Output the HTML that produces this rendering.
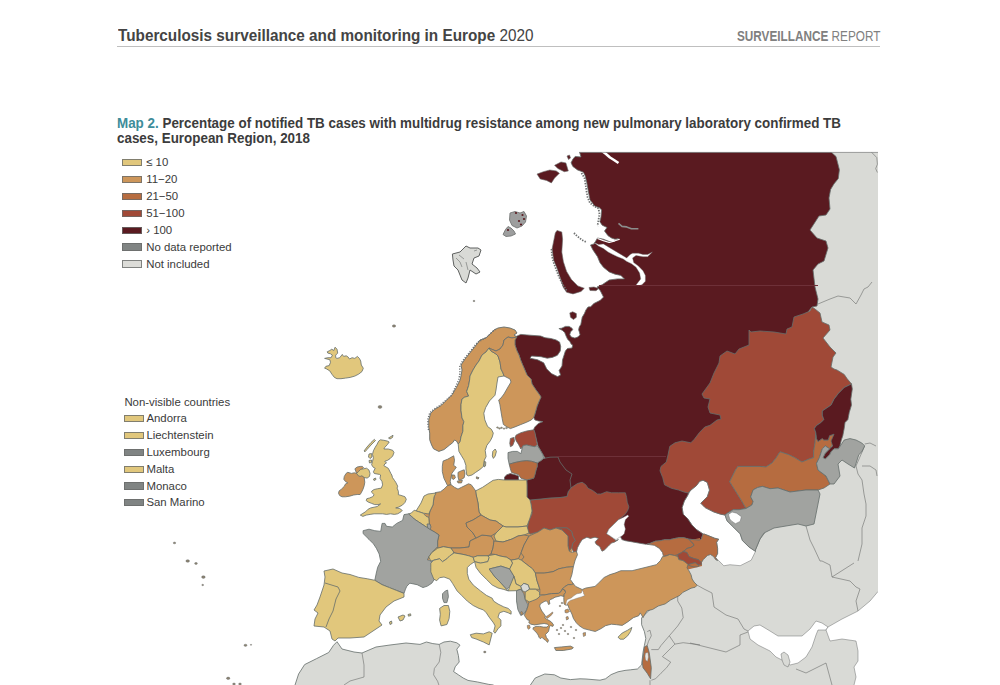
<!DOCTYPE html>
<html><head><meta charset="utf-8"><style>
html,body{margin:0;padding:0;background:#fff;}
body{width:1000px;height:685px;position:relative;overflow:hidden;font-family:"Liberation Sans",sans-serif;}
.t{position:absolute;white-space:nowrap;line-height:1;transform-origin:0 0;}
.sw{position:absolute;width:17.6px;height:5.4px;border:1px solid rgba(105,107,106,0.8);}
.lt{position:absolute;white-space:nowrap;font-size:11.4px;line-height:1;color:#3a3a3a;}
</style></head><body>
<svg width="1000" height="685" viewBox="0 0 1000 685" style="position:absolute;left:0;top:0"><defs><clipPath id="mc"><rect x="0" y="152" width="878" height="533"/></clipPath></defs><g clip-path="url(#mc)"><polygon points="790,148 884,148 884,692 293,692 295,685 298.6,674 304.6,664.6 316.6,658.6 328.7,652.5 333.5,645.3 337,641.7 342,649 354,652 362,653 376,647 390,645 406,643 420,644.4 426.4,642 432.8,643.6 439.2,644.4 444,642 450.4,641.2 456.8,642.8 460,645.2 456.8,649.2 458.4,655.6 459.2,662 455.2,666.8 453.6,671.6 458.4,674.8 463.2,678 468,680.4 477.6,682 488.8,684.4 493.6,685 494,692 530,692 530.4,685 535.2,678 544.8,674 554.4,674.8 560.8,678 570.4,679.6 580,678.8 586,679 600,680.2 605.5,678.8 611.1,674.6 618,671.8 625,670.4 630.5,669.8 637.4,669 641.6,664.9 643,652.4 644.4,645.5 645.8,638.5 644.4,631.6 641.6,624.7 641.6,617.7 670,590 685,570 695,560 705,548 760,480 790,148" fill="#d9dad6" stroke="#646d6b" stroke-width="0.8" stroke-linejoin="round" /><polyline points="677.7,596 677.7,601 681.8,608 683.2,617.7 677.7,626 669.3,635.8 661,645.5 658.3,649.6 651.3,649.6" fill="none" stroke="#6b6d6c" stroke-width="0.6" stroke-linejoin="round" /><polyline points="669.3,635.8 674.9,644.1 683.2,642.7 694.3,644.1 700,644.8" fill="none" stroke="#6b6d6c" stroke-width="0.6" stroke-linejoin="round" /><polyline points="674.9,644.1 662.4,656.6 670.7,662.1 666.6,667.7 661,673.2 655.5,678.8 651.3,680.2" fill="none" stroke="#6b6d6c" stroke-width="0.6" stroke-linejoin="round" /><polyline points="647.2,631.6 650,630.2 651.3,635.8 648.5,641.3 647.2,645.5" fill="none" stroke="#6b6d6c" stroke-width="0.6" stroke-linejoin="round" /><polyline points="697.2,585.2 704,589 712,593 714,607 726,615 738,619 744,629 748,631" fill="none" stroke="#6b6d6c" stroke-width="0.6" stroke-linejoin="round" /><polyline points="690,643 726,652 740,645 740,635 748,632" fill="none" stroke="#6b6d6c" stroke-width="0.6" stroke-linejoin="round" /><polyline points="755.4,550 760,539 764.7,533" fill="none" stroke="#6b6d6c" stroke-width="0.6" stroke-linejoin="round" /><polyline points="806,526 810,540 814,548 820,561 822,561 830,565 832,577 850,581 856,587 860,589 856,601 858,611" fill="none" stroke="#6b6d6c" stroke-width="0.6" stroke-linejoin="round" /><polyline points="832,577 854,563" fill="none" stroke="#6b6d6c" stroke-width="0.6" stroke-linejoin="round" /><polyline points="796,669 806,673 826,663 832,685" fill="none" stroke="#6b6d6c" stroke-width="0.6" stroke-linejoin="round" /><polyline points="864.7,445.9 856,466 858,474 862,480 864,494 866,504 866,516 862,528 862,544 858,561" fill="none" stroke="#6b6d6c" stroke-width="0.6" stroke-linejoin="round" /><polyline points="862,466 870,466 876,470 877,476" fill="none" stroke="#6b6d6c" stroke-width="0.6" stroke-linejoin="round" /><polyline points="864.7,444 870,443 876,446" fill="none" stroke="#6b6d6c" stroke-width="0.6" stroke-linejoin="round" /><polyline points="818,304 830,299 838,296 850,298 856,304 861,295 864,289 868,287 872,282" fill="none" stroke="#6b6d6c" stroke-width="0.6" stroke-linejoin="round" /><polyline points="871.3,152 876.8,157.6 877.4,164.2 875.7,168.6 877.4,172.5" fill="none" stroke="#6b6d6c" stroke-width="0.6" stroke-linejoin="round" /><polyline points="362,653 364,665 364,677 350,681 344,685" fill="none" stroke="#6b6d6c" stroke-width="0.6" stroke-linejoin="round" /><polyline points="439.2,644.4 440.8,652.4 439.2,662 434.4,668.4 433.6,674.8 437.6,681.2 439.2,686" fill="none" stroke="#6b6d6c" stroke-width="0.6" stroke-linejoin="round" /><polyline points="650,680.2 650,685" fill="none" stroke="#6b6d6c" stroke-width="0.6" stroke-linejoin="round" /><polygon points="703,480.2 707.3,482.4 709.5,490.1 707.3,496.7 703,501 700.8,503.2 705.1,507.6 713.9,512 720.5,514.2 725,515 727,520.8 733.6,527.3 740.2,533.9 742.4,540.5 749,547 755.5,551.4 751.2,560.2 740.2,565.7 729.9,564.7 723.8,565.8 718.7,560.6 715.6,557.6 717.6,553.5 717.6,548.4 716.6,542.3 718.7,539.2 714.6,538.2 709.5,536.1 704.4,534.1 703,533.9 696.4,529.5 692,525.1 687.6,518.6 683.2,514.2 682.1,507.6 684.3,501 687.6,495.6 690.9,490.1 696.4,485.7 699.7,481.3" fill="#ffffff" stroke="#6b6d6c" stroke-width="0.5" stroke-linejoin="round" /><polygon points="728.5,514.4 732,512 736.7,513.2 741.4,516.7 740.2,521.4 735.5,523.7 732,521.4 729.7,519" fill="#ffffff" stroke="#6b6d6c" stroke-width="0.5" stroke-linejoin="round" /><polygon points="748,631 754,626 760,625 770,631 778,636 790,636 802,636 810,629 816,621 822,623 828,627 826,630 818,630 816,635 812,647 806,657 798,663 790,665 784,661 776,657 770,651 758,645 750,639" fill="#ffffff" stroke="#6b6d6c" stroke-width="0.5" stroke-linejoin="round" /><polygon points="828,627 842,619 858,611 870,601 878,591.5 884,588 884,692 853,692 854,685 856,677 854,667 858,661 858,651 856,641 842,639 830,641 826,630" fill="#ffffff" stroke="#6b6d6c" stroke-width="0.5" stroke-linejoin="round" /><polygon points="781,654 784,652 788,655 790,662 788,667 784,665 782,660" fill="#d9dad6" stroke="#6b6d6c" stroke-width="0.5" stroke-linejoin="round" /><polygon points="579.5,152 831,152 836,156.5 839.4,169.7 838.3,178.5 833.9,184 830.6,189.5 829,198 830,209 826,215 819,216 810,230 817,238 826,241 828,248 824,261 818,264 813,270 815,287 818,299 817,306 812,307 790,335 765,380 745,420 725,450 705,470 692,486 689,492 687.6,495.6 684.3,501 682.1,507.6 683.2,514.2 687.6,518.6 692,525.1 696.4,529.5 703,533.9 702.3,536.1 701.3,539.2 699.2,540.2 694.1,539.7 689,539.2 683.9,537.7 678.8,537.7 673.7,538.7 669.6,539.7 664.5,539.7 660.4,540.7 655.3,541.2 650.2,543.3 646.1,544.3 640,543.3 632.4,541.9 625.4,540.7 621.9,539.6 615,525 618,505 600,498 580,492 566,486 562,470 550,462 545,458 538,446 536,438 534.5,432 533.7,429.2 534.9,426.9 538.4,423.4 543,421.6 538.4,421 534.9,419.9 533.7,417.5 534.9,414 537.2,405.8 539.6,400 541,397 539,394 536,390 532,384 531,379 527,375 524,368 521,361 519,355 517,351 515,345 515,340 515,337 520.7,334.4 530,335.2 540.7,336 545,337.7 550.8,338.5 556,339.9 559.6,342.1 560.7,346.5 560.3,350.9 557.4,355.3 552.3,357.4 547.2,358.2 541,356.7 531.5,356 530,358.2 537.6,359.8 543.7,362.8 546.8,369 551.4,373.6 557.5,376.6 560.6,375.1 559.1,370.5 562,366 562.5,360 564,355.3 565.4,350.9 567.5,348.5 572,348 572.7,345 571.3,344.3 569.8,341.4 567.6,339.2 566.2,336.3 564.7,332.6 562.5,330.4 558.9,328.6 561.8,328.2 565.4,326.4 569.1,326.4 572,328.2 572.7,329.7 570.5,331.9 569.8,334.8 571.3,337 574.9,338.1 577.8,337 580,334.8 579.3,331.9 578.6,329.7 579.3,326.8 580.8,324.6 581.5,321 582.2,317.3 584.4,313.6 585.9,310 588,307 590.7,306.7 593.9,303.5 600.3,300.3 603.5,297.1 600.3,290.7 597,287 602.2,284.7 609.2,280 617.4,278.9 624.4,278.9 620.9,275.4 615,274.2 609.2,271.9 603.4,267.2 599.9,262.6 597.5,256.7 592.8,249.7 590.5,245 594,243.9 597.5,238 603.4,239.2 609.2,241.5 613.9,241.5 618.5,238.6 615,239.2 611.5,238 608,235.7 604.5,231 607,227.5 602.2,225.2 599.9,221.7 601,217 601.6,210 599.6,207.8 594.8,206.2 590,199.8 588.4,191.8 586.7,182.1 585.1,175.7 583.4,172.2 577.5,169.9 572.8,166.4 571.1,162.8 572.8,159.3 575.2,156.4 581,157" fill="#5a1a20" stroke="#646d6b" stroke-width="0.8" stroke-linejoin="round" /><polygon points="594,242.5 598.7,244.5 603.4,243.9 609.2,247.4 615,250.9 620.9,254.4 626.7,257.9 630.2,254.4 632.6,253.2 638.4,253.2 643,254.4 647.7,254.4 652.4,252 647.7,256.7 643,256.7 636,255.5 632.6,257.9 633.7,262.6 638.4,266 643,270.7 645.4,275.4 645.4,281.2 642,284.7 638.4,285.9 636,285 640.7,278.9 639.6,273 636,267.2 631.4,263.7 626.7,261.4 623.2,259 617.4,256.7 612.7,254.4 608,252 603.4,248.5 598.7,246.2" fill="#ffffff" stroke="#6b6d6c" stroke-width="0.4" stroke-linejoin="round" /><polyline points="602,151 606,154 610,157.5 614,160 618.5,163" fill="none" stroke="#ffffff" stroke-width="2.6" stroke-linejoin="round" /><polyline points="618.5,223.4 622,226.4 626.7,226.9 631.4,228.7 638.4,228.7" fill="none" stroke="#8b8d8c" stroke-width="1.6" stroke-linejoin="round" /><polyline points="597.5,238.5 603.4,240.6 609.2,242.5 615,240.8 619.7,239.2" fill="none" stroke="#ffffff" stroke-width="1.2" stroke-linejoin="round" /><polygon points="557,230.4 561.8,232 562.6,239.3 561.8,252.1 563.4,261.8 566.6,271.4 571.4,279.4 577.8,285.9 584.3,288.3 581,291.5 573,293.9 566.6,292.3 563.4,287.5 560.2,277.8 557,268.2 553.7,260.2 552.1,248.9 553.7,240.9 555.3,232.9" fill="#5a1a20" stroke="#6b6d6c" stroke-width="0.6" stroke-linejoin="round" /><polygon points="589,287.5 594,287 598.7,288.5 596,290.7 590,290.5" fill="#5a1a20" stroke="#6b6d6c" stroke-width="0.6" stroke-linejoin="round" /><polygon points="569.8,312.9 572.7,311.8 576.4,313.6 576.4,317.3 573.5,319.5 570.5,317.3" fill="#5a1a20" stroke="#6b6d6c" stroke-width="0.6" stroke-linejoin="round" /><polygon points="554.6,165.3 561,162 565.9,162.9 568.3,170.9 564.3,171.7 557.8,168.5" fill="#5a1a20" stroke="#6b6d6c" stroke-width="0.6" stroke-linejoin="round" /><polygon points="537,174.1 543.4,171.7 549.8,170 556.2,170.9 559.4,173.3 554.6,178.1 551.4,182.9 546.6,180.5 540.2,178.9" fill="#5a1a20" stroke="#6b6d6c" stroke-width="0.6" stroke-linejoin="round" /><polygon points="567,156 569.5,155 570.5,158 568.5,159.5" fill="#5a1a20" stroke="#6b6d6c" stroke-width="0.6" stroke-linejoin="round" /><polygon points="510,213 515,211.5 520,213 524,211.5 526.5,216 525.5,222 522,226 517,228 512,225.5 509.5,220" fill="#9d9e9e" stroke="#6b6d6c" stroke-width="0.8" stroke-linejoin="round" /><polygon points="503,234.5 505.5,229.5 508,226.5 511,228 514,231 515.5,234 511,236 506,236.5" fill="#9d9e9e" stroke="#6b6d6c" stroke-width="0.8" stroke-linejoin="round" /><circle cx="522.5" cy="215" r="1.1" fill="#5a1a20"/><circle cx="524" cy="219" r="1.1" fill="#5a1a20"/><circle cx="519" cy="221" r="1.1" fill="#5a1a20"/><circle cx="508" cy="230" r="1.1" fill="#5a1a20"/><circle cx="521" cy="224.5" r="1.1" fill="#5a1a20"/><circle cx="516" cy="213" r="1.1" fill="#5a1a20"/><polyline points="581.5,173 584.5,178 585.5,184 586.5,191 587.5,197 590,203 594,206 598.5,208.5 599.5,214 598.5,220 597.5,226" fill="none" stroke="#6f7171" stroke-width="1.8" stroke-linejoin="round" stroke-dasharray="1.4 1.3"/><polyline points="551.5,249 552,256 553.5,262 556,269 559,277 563,285 567,291" fill="none" stroke="#6f7171" stroke-width="1.8" stroke-linejoin="round" stroke-dasharray="1.4 1.3"/><polyline points="574,233 577,236 582,240 586,242" fill="none" stroke="#6f7171" stroke-width="1.8" stroke-linejoin="round" stroke-dasharray="1.4 1.3"/><polygon points="812,307 815,309 820,313 822,322 829,325 830,330 823,338 830,347 836,353 833,357 831,367 834,369 837,370 844.2,374.4 847.2,378.8 851.5,383.9 844.2,387.5 838.4,393.4 834,399.2 831.1,405 826.7,408 822.3,410.9 822.3,415.3 823.8,419.6 820.9,422.6 816.5,425.5 814.3,428.4 815.8,432.8 815,443 813.6,451.8 813.6,457.6 809.2,459 801.9,462 794.6,457.6 788.8,454.7 780,451.8 776,458 772,463 766,467 760,466.4 738,466.4 735.5,470 729.7,481.7 735.5,491 741.4,500.4 746,508.5 739,509.7 733.2,509.7 727.4,513.2 725,515 720.5,514.2 713.9,512 705.1,507.6 700.8,503.2 703,501 707.3,496.7 709.5,490.1 707.3,482.4 703,480.2 699.7,481.3 696.4,485.7 690.9,490.1 688,493 684,492 678.5,490 671.5,488.3 664.5,484.8 662.8,477.8 660,470.8 661,466.4 666.3,462 668,455 669.8,446.3 675,442.8 682,441 690.8,442.8 694.3,439.3 699.6,432.3 704.8,427 710,425.3 717,420 721,419 720,415 710,413 708,407 710,399 704,398 702,394 710,383 714,373 719,363 720,356 727,351 735,354 739,349 744,347 749,345 749,330 751,332 760,331 774,332 786,334 787,329 792,327 794,317 803,314 810,311" fill="#a04937" stroke="#646d6b" stroke-width="0.8" stroke-linejoin="round" /><polygon points="729.7,481.7 735.5,470 738,466.4 760,466.4 766,467 772,463 776,458 780,451.8 788.8,454.7 794.6,457.6 801.9,462 809.2,459 813.6,457.6 813.6,451.8 815,443 815.8,432.8 816.5,438.6 818,441.5 822.3,438.6 823.8,440 828.2,440 829.6,435.7 834,434.2 832.6,444.5 829.6,448.8 825.3,445.9 822.3,448.8 819.4,457.6 816.5,463.4 818,470 826,476 830,484 824,488 818,490 806,490 790,492 778,488 770,488.7 762.4,486.4 757.7,487.5 753.1,489.9 750.7,496.9 753.1,501.5 751.9,505 746,508.5 741.4,500.4 735.5,491" fill="#b66c40" stroke="#646d6b" stroke-width="0.8" stroke-linejoin="round" /><polygon points="851.5,383.9 852.3,389 850.8,399.2 851.5,405 849.3,412.3 847.9,419.6 845,422.6 844.2,428.4 842.8,435.7 841.3,440 839.9,445.9 838.4,448.8 834,448.8 831.1,451.8 829.6,454.7 825.3,459 823,457.6 825.3,453.2 829.6,448.8 832.6,445.9 831,441 834,434.2 829.6,435.7 828.2,440 823.8,440 822.3,438.6 818,441.5 816.5,438.6 815.8,432.8 814.3,428.4 816.5,425.5 820.9,422.6 823.8,419.6 822.3,415.3 822.3,410.9 826.7,408 831.1,405 834,399.2 838.4,393.4 844.2,387.5" fill="#5a1a20" stroke="#646d6b" stroke-width="0.8" stroke-linejoin="round" /><polygon points="822.3,448.8 825.3,445.9 829.6,448.8 825.3,453.2 823,457.6 825.3,459 829.6,454.7 831.1,451.8 834,448.8 838.4,448.8 844.2,440 850,438.6 856,440 861.8,443 864.7,445.9 861.8,451.8 858.8,454.7 856,463.4 854.5,468 848,464 842,460 838,464 840,476 834,484 830,484 826,476 818,470 816.5,463.4 819.4,457.6" fill="#a1a3a0" stroke="#646d6b" stroke-width="0.8" stroke-linejoin="round" /><polygon points="746,508.5 751.9,505 753.1,501.5 750.7,496.9 753.1,489.9 757.7,487.5 762.4,486.4 770,488.7 778,488 790,492 806,490 818,490 820,494 818,504 816,514 814,524 806,526 798,524 786,526 774,528 764,533 760,539 755.4,550 755.5,551.4 749,547 742.4,540.5 740.2,533.9 733.6,527.3 727,520.8 725,515 727.4,513.2 733.2,509.7 739,509.7" fill="#a1a3a0" stroke="#646d6b" stroke-width="0.8" stroke-linejoin="round" /><polygon points="728.5,514.4 732,512 736.7,513.2 741.4,516.7 740.2,521.4 735.5,523.7 732,521.4 729.7,519" fill="#ffffff" stroke="#6b6d6c" stroke-width="0.5" stroke-linejoin="round" /><polygon points="664,546 700,538 702,566 686,570 665,558" fill="#b66c40" stroke="none" stroke-width="0" stroke-linejoin="round" /><polygon points="647.2,544.3 650.2,543.3 655.3,541.2 660.4,540.7 664.5,539.7 669.6,539.7 673.7,538.7 678.8,537.7 683.9,537.7 689,539.2 691.1,541.7 693.1,543.3 694.1,545.3 691.1,547.4 687,548.4 684.9,550.4 681.9,552.5 677.8,554.5 674.7,555.5 669.6,554.5 663.5,556.6 662.5,552.5 659.4,548.4 654.3,545.3" fill="#b66c40" stroke="#646d6b" stroke-width="0.8" stroke-linejoin="round" /><polygon points="689,539.2 694.1,539.7 699.2,540.2 701.3,539.2 702.3,536.1 703.3,534.1 704.4,534.1 709.5,536.1 714.6,538.2 718.7,539.2 716.6,542.3 717.6,548.4 717.6,553.5 715.6,557.6 717.6,560.6 715.6,559.6 713.6,556.6 710.5,554.5 707.4,555.5 703.3,559.6 701.3,562.7 698.2,559.6 694.1,558.6 689,556.6 687,552.5 682.9,551.5 684.9,550.4 687,548.4 691.1,547.4 694.1,545.3 693.1,543.3 691.1,541.7" fill="#b66c40" stroke="#646d6b" stroke-width="0.8" stroke-linejoin="round" /><polygon points="677.8,554.5 681.9,552.5 682.9,551.5 687,552.5 689,556.6 694.1,558.6 698.2,559.6 701.3,562.7 701.3,564.7 698.2,564.7 695.2,562.7 691.1,563.7 688,564.7 686,562.7 682.9,560.6 678.8,559.6 677.8,556.6" fill="#a04937" stroke="#646d6b" stroke-width="0.8" stroke-linejoin="round" /><polygon points="688,564.7 691.1,563.7 695.2,562.7 699.2,565.8 697.2,566.8 693.1,566.8 690,565.8" fill="#b66c40" stroke="#646d6b" stroke-width="0.8" stroke-linejoin="round" /><polygon points="436,495 466,490 476,494 500,488 527,484 540,465 558,466 566,488 590,495 612,500 605,520 595,528 575,540 572,552 560,568 540,590 530,606 524,600 520,592 516,586 512,570 492,556 470,556 452,553 433,558 427,561 428,530 424,514 432,500" fill="#cd965a" stroke="none" stroke-width="0" stroke-linejoin="round" /><polygon points="530,500 541,499 550,498 560,497.5 567,496.4 568.2,491.7 570.5,488.2 574,485.8 577.5,483.5 582.2,482.3 585.7,484.7 588,488.2 592.7,490.5 597.4,494 600.9,494 606.7,491.7 611.4,492.8 618.4,492.8 625.4,492.8 626.6,497.5 627.2,502.2 628.9,506.9 627.7,510.4 625.4,513.9 623.1,516.2 618.4,519.7 613.7,524.4 609,529 606.7,533.7 610.2,536 613.7,538.4 616,540.7 618.4,539.6 614.9,541.9 611.4,543.1 607.9,546.6 604.4,550 602,551.2 599.7,546.6 596.2,544.2 595,541.9 598.5,538.4 595,537.2 590.4,538.4 586.9,537.2 584.5,538.4 582.2,539.6 579.9,543.1 577.5,547.7 576.4,552.4 575.2,557 574,553 571.7,547.7 572.8,543.1 575.2,540.7 572.8,536 571.7,531.4 567,527.9 560,527.9 556,528 550,530 544,528 538,532 530,534 527,530 529,520 532,514 532,511 531,504" fill="#a04937" stroke="#646d6b" stroke-width="0.8" stroke-linejoin="round" /><polygon points="556,528 560,527.9 567,527.9 571.7,531.4 572.8,536 575.2,540.7 572.8,543.1 571.7,547.7 569.3,551.2 568,546 568,536 562,530" fill="#a04937" stroke="#646d6b" stroke-width="0.8" stroke-linejoin="round" /><polygon points="606.7,533.7 609,529 613.7,524.4 618.4,519.7 623.1,517.4 627.7,515 628.9,516.2 625.4,519.7 624.2,524.4 625.4,529 624.2,533.7 621.9,536 619.6,537.2 616,539.6 613.7,538.4 610.2,536" fill="#ffffff" stroke="#6b6d6c" stroke-width="0.4" stroke-linejoin="round" /><polygon points="543.6,458.4 550,457.2 558,457 560,462 566,470 572,474 570,480 571,488 568.2,491.7 567,496.4 560,497.5 550,498 541,499 530,500 527,497 527,490 527,485 526.7,480 533.7,478.2 534.9,474.7 536,470 537.2,466.6 537.2,463 540.7,460.7" fill="#5a1a20" stroke="#646d6b" stroke-width="0.8" stroke-linejoin="round" /><polygon points="515,437.4 516.2,435 520.9,432.7 526.7,431 533.7,429.8 534.9,432.7 536,438.5 537.2,444.4 534.9,446.7 531.4,446.1 526.7,445 523.2,445.5 520.9,449 519.7,446.7 518.5,444.4 516.2,440.9" fill="#a04937" stroke="#646d6b" stroke-width="0.8" stroke-linejoin="round" /><polygon points="509.8,443.2 510.4,438.5 513.9,437.4 514.5,440.9 512.7,445.5 510.4,446.7" fill="#a04937" stroke="#646d6b" stroke-width="0.8" stroke-linejoin="round" /><polygon points="508,452.6 512.7,451.4 517.4,451.4 520.9,453.7 522,449 523.2,445.5 526.7,445 531.4,446.1 534.9,446.7 537.2,445.5 539.6,449 543,454.9 543.6,458.4 540.7,460.7 537.2,463 531.4,461.3 526.7,460.7 520.9,461.3 515,462.5 509.2,464.2 508,458.4" fill="#a1a3a0" stroke="#646d6b" stroke-width="0.8" stroke-linejoin="round" /><polygon points="509.2,464.2 515,462.5 520.9,461.3 526.7,460.7 531.4,461.3 537.2,463 537.2,466.6 536,470 534.9,474.7 533.7,478.2 526.7,480 520.9,478.2 518.5,474.7 511.5,472.4 510.4,468.9" fill="#b66c40" stroke="#646d6b" stroke-width="0.8" stroke-linejoin="round" /><polygon points="504.5,477 506.9,474.7 510.4,473.6 515,474.7 518.5,475.9 518.5,480 504.5,480" fill="#5a1a20" stroke="#646d6b" stroke-width="0.8" stroke-linejoin="round" /><polygon points="431.6,445 433.5,448.8 438.8,451.4 444,449.6 449.3,445.3 452.8,442.6 454.5,440 456.5,441 458.2,444 460.1,441.7 461,436.9 462.9,431.2 462.9,425.5 463.9,421.7 462,417.9 461,410.4 461,404.7 462,399 464.8,397.1 468.6,396.1 466.7,391.4 468.6,385.7 469.6,380 470,376 473,370 476,365 479,361 482,355 486,352 489,348 491,349 496,351 500,349 503,345 504,340 508,337 512,338 517,337 514,335 517,333 515,330 510,328 504,327 498,328 494,330 490,334 486,338 480,340 477,344 473,349 469,354 465,359 461,365 462,370 461,376 460.1,380 456.3,387.6 452.5,394.2 446.8,399.9 441.1,405.6 434.5,409.4 430.7,413.2 428.8,419.8 428.8,427.4 429.7,433.1 429.7,439.8" fill="#cd965a" stroke="#646d6b" stroke-width="0.9" stroke-linejoin="round" /><polyline points="428.5,430 428,424 428,419 429.8,413 433,410 439,406 445,401 451,396 453.5,391 456.5,385 459,379 460,373 459.6,367 462.5,361 466.5,356 470.5,351 474.5,346 478,342 483.5,339 488,336 492,332 496,329" fill="none" stroke="#6f7171" stroke-width="1.5" stroke-linejoin="round" stroke-dasharray="1.1 1.5"/><polygon points="489,348 491,351 496,354 498,356 500,362 501,369 503,373 504,376 498,377 497,383 496,390 495,395.2 489.5,400.9 485.7,407.5 483.8,413.2 484.8,419.8 487.6,426.5 491.4,429.3 493.3,433.1 492.3,436.9 490.4,440.7 486.9,445.3 485.2,450.5 486.1,456.6 484.3,460.2 483.4,466.3 480.8,468.9 475.6,472.4 472,475 468.5,475.9 466.8,475 465.9,468.9 465.9,465.4 464.2,460.2 461.5,455.8 458.9,451.4 458.2,444 460.1,441.7 461,436.9 462.9,431.2 462.9,425.5 463.9,421.7 462,417.9 461,410.4 461,404.7 462,399 464.8,397.1 468.6,396.1 466.7,391.4 468.6,385.7 469.6,380 470,376 473,370 476,365 479,361 482,355 486,352" fill="#e1c77c" stroke="#646d6b" stroke-width="0.8" stroke-linejoin="round" /><polygon points="517,337 512,338 508,337 504,340 503,345 500,349 496,351 491,349 489,348 491,351 496,354 498,356 500,362 501,369 503,373 504,376 510,379 511,382 508,387 504,394 501,398 498.7,400 499.9,404.7 501,411.7 502.2,418.7 503.4,424.5 506.9,426.9 510.4,428.6 515,426.9 520.9,424.5 526.7,422.2 531.4,419.9 533.7,417.5 534.9,414 537.2,405.8 539.6,400 541,397 539,394 536,390 532,384 531,379 527,375 524,368 521,361 519,355 517,351 515,345 515,340" fill="#cd965a" stroke="#646d6b" stroke-width="0.8" stroke-linejoin="round" /><polygon points="492.8,451.4 495.2,449 496.4,451.4 495.2,456 493.4,458.4 492.3,456" fill="#e1c77c" stroke="#646d6b" stroke-width="0.8" stroke-linejoin="round" /><polygon points="484.5,461 485.8,462 485.5,466 484,467" fill="#e1c77c" stroke="#646d6b" stroke-width="0.8" stroke-linejoin="round" /><ellipse cx="497.5" cy="427.5" rx="1" ry="0.7" fill="#9a8c70" stroke="#646d6b" stroke-width="0.4"/><ellipse cx="499.5" cy="428.5" rx="1" ry="0.7" fill="#9a8c70" stroke="#646d6b" stroke-width="0.4"/><ellipse cx="501.5" cy="427.8" rx="1" ry="0.7" fill="#9a8c70" stroke="#646d6b" stroke-width="0.4"/><ellipse cx="504" cy="428.6" rx="1" ry="0.7" fill="#9a8c70" stroke="#646d6b" stroke-width="0.4"/><ellipse cx="506.5" cy="428" rx="1" ry="0.7" fill="#9a8c70" stroke="#646d6b" stroke-width="0.4"/><polygon points="443.1,461 447.5,459.3 453.7,455.8 454.5,460.2 453.7,465.4 456.3,467.2 454.5,469.8 451.9,473.3 451,477.7 450.2,481.2 451,484.7 447.5,485.6 445.8,482.1 444,478.5 443.1,475 442.3,471.5 442.3,466.3" fill="#cd965a" stroke="#646d6b" stroke-width="0.8" stroke-linejoin="round" /><polygon points="458,472.4 461.5,470.7 464.2,469.8 465,473.3 464.2,477.7 461.5,479.4 458.9,480.3 458,476.8" fill="#cd965a" stroke="#646d6b" stroke-width="0.8" stroke-linejoin="round" /><polygon points="451.9,475 454.5,475 455.4,477.7 453.7,479.4 451.9,478.5" fill="#cd965a" stroke="#646d6b" stroke-width="0.8" stroke-linejoin="round" /><polygon points="457.2,481.2 462.4,480.3 461.5,482.9 458,482.9" fill="#cd965a" stroke="#646d6b" stroke-width="0.8" stroke-linejoin="round" /><polygon points="476.4,476.8 479,477.7 478.2,479 476.4,478.5" fill="#cd965a" stroke="#646d6b" stroke-width="0.8" stroke-linejoin="round" /><polygon points="327.2,351.8 329.8,350.5 331.8,349.2 333.8,350.5 335.1,347.2 337,349.2 337.7,353.1 335.7,355.1 335.7,357.7 337,358.4 339.7,357.7 342.3,354.4 343.6,356.4 346.2,355.8 348.2,357.1 349.5,359 352.1,357.7 354.8,358.4 357.4,356.4 359.4,358.4 360.7,361 361.3,365 363.3,368.2 362,371.5 358.7,374.1 354.8,376.1 350.2,377.4 345.6,378.1 341,378.7 337,378.7 334.4,377.4 331.8,374.1 329.8,370.9 326.5,368.9 324.6,368.2 325.9,366.3 329.2,365.6 330.5,362.3 329.8,359.7 324.6,358.4 327.8,357.7 331.1,357.7 332.4,355.1 330.5,353.8 327.8,353.1" fill="#e1c77c" stroke="#646d6b" stroke-width="0.8" stroke-linejoin="round" /><polygon points="452.4,254 460,252 466,246 470,248 478,248 481,250 479,256 474,258 472,264 477,268 480,272 476,274 470,270 468,278 466,283 462,280 458,270 454,266 453,260" fill="#d9dad6" stroke="#5f6160" stroke-width="1.0" stroke-linejoin="round" /><polyline points="456,258 460,262 462,267" fill="none" stroke="#7a7c7b" stroke-width="0.7" stroke-linejoin="round" /><polyline points="459,255 464,259" fill="none" stroke="#7a7c7b" stroke-width="0.7" stroke-linejoin="round" /><polyline points="466,262 468,270" fill="none" stroke="#7a7c7b" stroke-width="0.7" stroke-linejoin="round" /><polyline points="474,251 477,250" fill="none" stroke="#7a7c7b" stroke-width="0.7" stroke-linejoin="round" /><polygon points="475.6,490.8 477.3,490 482.6,487.3 487.8,483.8 493.1,480.3 498.3,479.4 504.5,480 518.5,480 526.7,480 527,485 527,490 527,497 530,500 531,504 532,511 530,518 527,526 518,527 512,527 506,527 503,526 496,521 490,520 481,515 479,512 478,503 476,494" fill="#e1c77c" stroke="#646d6b" stroke-width="0.8" stroke-linejoin="round" /><polygon points="435.3,492.6 440.5,491.7 444,489.1 447.5,485.6 451,484.7 454.5,487.3 458,489.1 461.5,487.3 465,485.6 468.5,483.8 471.2,484.7 473.8,488.2 475.6,490.8 476,494 478,503 479,512 481,515 473,520 466,523 467,527 473,533 476,538 470,541 469,547 460,548 451,548 443.4,546.7 437.6,548.2 437.6,546.7 437.6,540.9 439,535 434.7,532.1 429.6,529.2 428.8,517.5 430,511 433,505 434,497" fill="#cd965a" stroke="#646d6b" stroke-width="0.8" stroke-linejoin="round" /><polygon points="416,511 421,503 424,496 428,494 436,493 434,497 433,505 430,511 428.8,514 423,513.1 418.6,511.7" fill="#e1c77c" stroke="#646d6b" stroke-width="0.8" stroke-linejoin="round" /><polygon points="408.4,513.9 411.3,513.1 414.2,510.2 418.6,511.7 423,513.1 425.9,516.1 428.8,517.5 429.6,529.2 427.4,527.7 423,524.8 418.6,521.9 414.2,519 411.3,516.1" fill="#e1c77c" stroke="#646d6b" stroke-width="0.8" stroke-linejoin="round" /><polygon points="427,524 430,524 431,527 430,529.5 428,529" fill="#a1a3a0" stroke="#646d6b" stroke-width="0.8" stroke-linejoin="round" /><polygon points="363.1,530.7 369,529.2 374.8,530.7 380.7,531.4 382.1,523.4 385,523.4 386.5,526.3 392.3,527 396.7,523.4 402.6,520.4 404,514.6 408.4,513.9 411.3,516.1 414.2,519 418.6,521.9 423,524.8 427.4,527.7 429.6,529.2 434.7,532.1 439,535 437.6,540.9 437.6,546.7 431.8,552.6 428.8,556.9 427.4,559.9 431.8,561.3 431.8,567.2 433.2,573 434.7,578.8 431.8,583.2 427.4,586.1 423,587.6 417.2,584.7 409.9,583.2 406.9,586.1 405.5,589.1 404,593.4 396.7,590.5 389.4,587.6 382.1,584.7 374.8,580.3 376.3,573 377.7,567.2 380.7,561.3 379.2,554 376.3,548.2 373.4,543.8 369,539.4 366.1,536.5 363.1,533.6" fill="#a1a3a0" stroke="#646d6b" stroke-width="0.8" stroke-linejoin="round" /><polygon points="442.5,593.8 445.4,590.9 447.6,590.1 448.4,596.7 446.9,602.6 444,602.6 442.5,598.2" fill="#a1a3a0" stroke="#646d6b" stroke-width="0.8" stroke-linejoin="round" /><polygon points="428.8,556.9 431.8,552.6 437.6,548.2 443.4,546.7 451,548 454,552 452,555 449.8,555.8 446.9,558.8 442.5,561.7 439.6,558.8 433.8,560.2 430.8,561" fill="#e1c77c" stroke="#646d6b" stroke-width="0.8" stroke-linejoin="round" /><polygon points="451,548 460,548 469,547 470,541 476,538 482,535 491,536 494,541 493,548 491,554 487.8,555.8 477.6,555.8 473.2,557.3 468.8,555.8 463,554.4 454.2,552.9" fill="#cd965a" stroke="#646d6b" stroke-width="0.8" stroke-linejoin="round" /><polygon points="466,523 473,520 481,515 490,520 496,521 503,526 496,533 491,536 482,535 476,538 473,533 467,527" fill="#cd965a" stroke="#646d6b" stroke-width="0.8" stroke-linejoin="round" /><polygon points="496,533 503,526 506,527 512,527 518,527 527,526 529,533 524,535 518,536 512,539 503,542 496,541 494,536" fill="#e1c77c" stroke="#646d6b" stroke-width="0.8" stroke-linejoin="round" /><polygon points="494,541 503,542 512,539 518,536 524,535 529,536 524,545 521,553 518.4,558.8 511.1,560.2 506.8,557.3 500,556 495.1,554.4 491,554 493,548" fill="#cd965a" stroke="#646d6b" stroke-width="0.8" stroke-linejoin="round" /><polygon points="529,536 538,532 544,528 550,530 556,528 562,530 568,536 568,546 569.3,551.2 571.7,552.4 576.4,551.2 577.5,554.7 575.2,560 573.4,566.6 566.1,567.3 558.8,568.8 553,571.7 544.2,573.1 535.4,573.1 532.5,568.8 526.7,564.4 521.4,560.2 524,557 521,553 524,545" fill="#cd965a" stroke="#646d6b" stroke-width="0.8" stroke-linejoin="round" /><polygon points="430.8,563.1 433.8,560.2 439.6,558.8 442.5,561.7 446.9,558.8 449.8,555.8 454.2,552.9 463,554.4 468.8,555.8 473.2,557.3 474.6,561.7 470.3,564.6 467.3,567.5 467.3,573.4 468.8,579.2 473.2,585 480.5,590.9 486.3,595.3 492.2,598.2 493.6,601.1 498,604 503.8,606.9 508.2,608.4 511.1,611.3 511.1,614.2 508.2,612.8 503.8,611.3 499.5,612.8 498,617.2 500.9,620.1 500.9,625.9 498,628.8 495.1,633.2 493.6,631.8 495.1,625.9 493.6,623 489.2,617.2 486.3,612.8 483.4,609.9 479,608.4 473.2,605.5 467.3,601.1 461.5,595.3 457.1,590.9 452.7,583.6 449.8,579.2 444,577 439.6,577.7 436.7,580.7 433.8,579.2 430.8,571.9 430.8,567.5" fill="#e1c77c" stroke="#646d6b" stroke-width="0.8" stroke-linejoin="round" /><polygon points="470.3,634.7 476.1,633.2 483.4,633.9 489.2,631.8 492.2,633.2 490.7,639 489.2,644.9 483.4,642 476.1,639 471.7,637.6" fill="#e1c77c" stroke="#646d6b" stroke-width="0.8" stroke-linejoin="round" /><polygon points="439.6,608.4 444,605.5 448.4,605.5 449.8,611.3 449.1,618.6 446.9,624.5 441.1,625.9 439.6,620.1 440.3,614.2" fill="#e1c77c" stroke="#646d6b" stroke-width="0.8" stroke-linejoin="round" /><polygon points="473.2,557.3 477.6,555.8 487.8,555.8 489.2,557.3 487.8,561.7 480.5,563.1 474.6,561.7" fill="#e1c77c" stroke="#646d6b" stroke-width="0.8" stroke-linejoin="round" /><polygon points="487.8,555.8 495.1,554.4 500,556 506.8,557.3 511.1,560.2 512.6,563.1 509.7,569 500.9,566.1 489.2,569 495,577 500,582 506.8,589.4 508.2,590.9 503.8,589.4 498,588 492.2,585 486.3,579.2 480.5,573.4 476.1,567.5 474.6,561.7 480.5,563.1 487.8,561.7 489.2,557.3" fill="#e1c77c" stroke="#646d6b" stroke-width="0.8" stroke-linejoin="round" /><polygon points="489.2,569 500.9,566.1 509.7,569 514,576.3 512.6,582.1 509.7,586.5 506.8,589.4 500,582 495,577" fill="#a1a3a0" stroke="#646d6b" stroke-width="0.8" stroke-linejoin="round" /><polygon points="511.1,560.2 518.4,558.8 521.4,560.2 526.7,564.4 532.5,568.8 535.4,573.1 536.9,580.4 538.4,584.8 539.8,589.2 535.4,589.2 529.6,589.2 528.1,584.8 523.8,583.4 520.8,586.3 516,584 514,576.3 509.7,569 512.6,563.1" fill="#e1c77c" stroke="#646d6b" stroke-width="0.8" stroke-linejoin="round" /><polygon points="509.7,586.5 514,576.3 516,584 520.8,586.3 522.3,590.7 520.8,589.2 516.5,590.7 508.2,590.9" fill="#e1c77c" stroke="#646d6b" stroke-width="0.8" stroke-linejoin="round" /><polygon points="520.8,586.3 523.8,583.4 528.1,584.8 529.6,589.2 525.2,592.1 522.3,590.7" fill="#d9dad6" stroke="#646d6b" stroke-width="0.8" stroke-linejoin="round" /><polygon points="516.5,590.7 520.8,589.2 523.8,593.6 525.2,599.4 528.1,605.3 526.7,609.6 523.8,614 520.8,615.5 517.9,609.6 516.5,600.9" fill="#a1a3a0" stroke="#646d6b" stroke-width="0.8" stroke-linejoin="round" /><polygon points="525.2,592.1 529.6,589.2 535.4,589.2 539.8,592.1 539.8,596.5 535.4,600.9 529.6,602.3 525.2,599.4" fill="#e1c77c" stroke="#646d6b" stroke-width="0.8" stroke-linejoin="round" /><polygon points="535.4,573.1 544.2,573.1 553,571.7 558.8,568.8 566.1,567.3 573.4,566.6 571.9,574.6 570.3,579.4 573.4,583.8 571.6,584.6 568.1,584.6 564.6,586.8 561.6,589.5 561.1,591.6 558.5,593.4 551.5,593.6 544.2,595 539.8,595 539.8,592.1 539.8,589.2 538.4,584.8 536.9,580.4" fill="#cd965a" stroke="#646d6b" stroke-width="0.8" stroke-linejoin="round" /><polygon points="528.8,602.3 532.4,600.8 536,599.4 538.2,597.9 540.4,595.7 541.9,595 544.2,595 551.5,593.6 558.5,593.4 561.1,591.6 562.4,589 565.1,590.3 565.5,592.5 564.2,594.3 563.8,596.5 560.9,595.7 558,596.5 555,597.2 552.8,598.6 550.7,599.4 549.2,600.8 549.9,603.8 548.5,604.5 547.7,602.3 546.3,600.8 544.1,601.6 541.9,603 540.4,603.8 539.7,606 540.4,608.1 541.9,611.1 544.1,614 545.5,616.2 544.8,617.6 546.3,619.1 549.2,620.5 551.4,622 553.6,624.9 552.8,626.4 550.7,625.7 549.5,626.5 549.2,628.6 548.5,631.5 547,633 545.5,634.4 546.3,637.3 548.5,640.3 547.7,642.4 545.5,640.3 543.4,638.8 541.9,637.3 540.4,638.8 539,637.3 538.2,635.1 536.8,633 534.6,630.8 533.1,629.3 533.1,627.8 536,626.4 539.7,626.4 543.4,627.1 547,627.1 548.5,625.5 547.7,624.2 544.1,623.5 539,624.2 534.6,624.9 530.9,624.2 528.8,622.7 529.5,620.5 527.3,619.8 525.8,617.6 524.4,615.4 525.1,613.2 526.6,610.3 528,606" fill="#cd965a" stroke="#646d6b" stroke-width="0.8" stroke-linejoin="round" /><polygon points="554.4,647.6 561.7,646.9 570.5,646.1 573.4,647.6 571.9,649 563.2,650.5 555.9,650.5" fill="#cd965a" stroke="#646d6b" stroke-width="0.8" stroke-linejoin="round" /><polygon points="565,610 568,609 569.5,611.5 567,613 565,612.5" fill="#cd965a" stroke="#6b6d6c" stroke-width="0.6" stroke-linejoin="round" /><polygon points="566,617 568,616.5 568.5,619 566.5,620" fill="#cd965a" stroke="#6b6d6c" stroke-width="0.6" stroke-linejoin="round" /><polygon points="583,633 585.5,632.5 585.5,635.5 583.5,636.5" fill="#cd965a" stroke="#6b6d6c" stroke-width="0.6" stroke-linejoin="round" /><polygon points="545.5,616.9 548,615.5 550.7,613.5 552.5,612 553,613 550.5,616 547,618.5" fill="#cd965a" stroke="#6b6d6c" stroke-width="0.6" stroke-linejoin="round" /><polygon points="527.3,625.5 529.5,625 530.2,628 528.5,629.3 527.5,628" fill="#cd965a" stroke="#6b6d6c" stroke-width="0.6" stroke-linejoin="round" /><polygon points="520.5,612 522,611.5 523,614 521.5,615" fill="#cd965a" stroke="#6b6d6c" stroke-width="0.6" stroke-linejoin="round" /><ellipse cx="561" cy="628" rx="0.9" ry="0.7" fill="#9a8a70" stroke="#6b6d6c" stroke-width="0.4"/><ellipse cx="565" cy="631" rx="0.9" ry="0.7" fill="#9a8a70" stroke="#6b6d6c" stroke-width="0.4"/><ellipse cx="568" cy="634" rx="0.9" ry="0.7" fill="#9a8a70" stroke="#6b6d6c" stroke-width="0.4"/><ellipse cx="559" cy="634" rx="0.9" ry="0.7" fill="#9a8a70" stroke="#6b6d6c" stroke-width="0.4"/><ellipse cx="571" cy="627" rx="0.9" ry="0.7" fill="#9a8a70" stroke="#6b6d6c" stroke-width="0.4"/><ellipse cx="563" cy="625" rx="0.9" ry="0.7" fill="#9a8a70" stroke="#6b6d6c" stroke-width="0.4"/><ellipse cx="557" cy="630" rx="0.9" ry="0.7" fill="#9a8a70" stroke="#6b6d6c" stroke-width="0.4"/><ellipse cx="574" cy="638" rx="0.9" ry="0.7" fill="#9a8a70" stroke="#6b6d6c" stroke-width="0.4"/><ellipse cx="560" cy="606" rx="0.9" ry="0.7" fill="#9a8a70" stroke="#6b6d6c" stroke-width="0.4"/><ellipse cx="562" cy="603" rx="0.9" ry="0.7" fill="#9a8a70" stroke="#6b6d6c" stroke-width="0.4"/><ellipse cx="576" cy="630" rx="0.9" ry="0.7" fill="#9a8a70" stroke="#6b6d6c" stroke-width="0.4"/><polygon points="563.8,597.8 564.2,594.3 565.5,592.5 565.1,590.3 562.4,589 564.6,586.8 568.1,584.6 571.6,584.6 573.4,583.8 575.6,586.4 579.1,588.1 582.2,589.5 585.7,588.1 590,587.3 595,586.4 598.2,583.4 604.1,577.5 610,574.6 615,573.1 620.9,570.7 632.1,570.7 645,567.5 656.3,564.7 660.4,560.6 662.5,556.6 663.5,556.6 667.6,555.5 669.6,554.5 674.7,555.5 677.8,556.6 678.8,559.6 682.9,560.6 686,562.7 688,564.7 687,567.8 689,570.9 691.1,574.9 692.1,579 694.1,582.1 697.2,585.2 695.2,587.2 691.1,588.2 687,590.3 682.9,592.3 679.8,595.4 675.8,597.4 670.6,600 665.2,603.9 658.3,606 652.7,609.4 647.2,610.8 644.4,615 643,617.7 641.6,615 640.2,612.9 638.8,615.7 633.3,617.7 627.7,621.9 622.2,625.4 616.6,624.7 611.4,624.2 605.5,625.7 601.1,628.6 595.3,631.5 589.5,630.1 583.6,628.6 579.2,625.7 576.3,622.8 573.4,618.4 571.9,614 569,608.2 568,605 566.4,605 565.5,605 564,604" fill="#cd965a" stroke="#646d6b" stroke-width="0.8" stroke-linejoin="round" /><polygon points="582.2,589.9 583.5,592.5 583.5,593.4 584.8,595.6 581.3,596.9 576.9,598.2 573.4,599.5 570.3,600.4 568.1,602.2 566.8,605 565.8,605 566.4,601.3 567.3,599.5 569.5,598.7 571.6,597.8 573.4,596 576.9,593.8 581.3,593" fill="#ffffff" stroke="#6b6d6c" stroke-width="0.4" stroke-linejoin="round" /><polygon points="618,637.2 622.2,633 627.7,630.2 631.9,627.4 630.5,631.6 627.7,635.8 623.6,639.2 620.1,639.2" fill="#e1c77c" stroke="#646d6b" stroke-width="0.8" stroke-linejoin="round" /><polygon points="644.4,646.9 647.2,645.5 649.2,652.4 651.3,667.7 650.6,678.8 647.2,673.2 643,667.7 642.3,662.1 643.7,653.8" fill="#b66c40" stroke="#646d6b" stroke-width="0.8" stroke-linejoin="round" /><polygon points="645.5,653 648,652.5 648.5,657 647.5,661.5 645.5,660 645,656" fill="#e6e6e2" stroke="#6b6d6c" stroke-width="0.4" stroke-linejoin="round" /><polygon points="324,571 333,569 342,573 350,574.5 358.8,577.4 367.5,578.8 374.8,580.3 382.1,584.7 389.4,587.6 396.7,590.5 404,593.4 404,597 394,601 386,607 380,615 379,621 382,625 376,629 370,633 364,637 350,638 338,638 335,641 332,639 330,631 324,627 314,626 315,619 318,613 314,610 317,605 320,597 324,585 325,577" fill="#e1c77c" stroke="#646d6b" stroke-width="0.8" stroke-linejoin="round" /><polyline points="325,583 338,587 340,591 336,599 333,611 329,619 326,627" fill="none" stroke="#646d6b" stroke-width="0.8" stroke-linejoin="round" /><polygon points="398,617 403,615 405,616 403,620 400,621" fill="#e1c77c" stroke="#646d6b" stroke-width="0.8" stroke-linejoin="round" /><polygon points="408,614.5 410.5,613.8 411,615.5 408.5,616.2" fill="#e1c77c" stroke="#646d6b" stroke-width="0.8" stroke-linejoin="round" /><polygon points="389.5,622 391.5,621 392,623.5 390,624.5" fill="#e1c77c" stroke="#646d6b" stroke-width="0.8" stroke-linejoin="round" /><polygon points="380.4,439.8 383.9,440.3 387.4,441.1 389.2,442 387.4,444.6 384.8,447.3 383.9,449 388.3,449 392.7,450.3 394,452.5 392.7,456 390,458.7 387.4,460.4 384.8,461.3 386.5,463 384.8,463.9 383.9,465.7 388.3,468.3 390.9,473.5 391.8,475 392.5,477.6 394.4,480.3 395.7,482.2 397.7,486.2 397.1,488.1 398.4,491.4 398.4,494.7 401,495.4 404.9,496.7 406.3,499.3 404.9,502.6 402.3,505.2 398.4,507.2 395.7,507.9 399.7,508.5 402.3,510.5 401,511.8 397.7,513.8 394.4,514.4 390.5,513.8 386.5,514.4 382.6,513.8 378,513.8 374.1,513.8 370.1,514.4 366.2,515.1 362.9,516.4 360.3,515.1 362.2,513.8 365.5,511.8 368.1,509.2 370.8,507.9 374.1,507.2 377.3,506.5 380.6,503.9 378,504.6 374.7,504.6 371.4,503.3 368.1,502 366.2,500.6 366.8,498.7 369.5,498 372.7,496.7 374.1,494.7 371.4,492.1 372.1,490.8 374.1,489.5 377.3,488.8 381.3,488.1 382.6,484.9 382,481.6 380,478.3 380.6,475 379.5,474.4 374.3,473.5 373.4,471.8 375.2,468.3 373.4,467.4 371.6,464.8 372.5,461.3 373.4,457.8 372.5,454.3 373.4,450.8 375.2,447.3 376.9,444.6 378.7,441.1" fill="#e1c77c" stroke="#646d6b" stroke-width="0.8" stroke-linejoin="round" /><polygon points="374.3,439.4 375.5,440.5 371,445 367,449.5 365,451.8 364,451 367,447 371,442.5" fill="#e1c77c" stroke="#646d6b" stroke-width="0.8" stroke-linejoin="round" /><polygon points="388.5,438 391,436.5 393,435.2 392.5,437.5 390,439" fill="#e1c77c" stroke="#646d6b" stroke-width="0.8" stroke-linejoin="round" /><polygon points="373.5,479 375.5,478 376,479.5 374,480.5" fill="#e1c77c" stroke="#646d6b" stroke-width="0.8" stroke-linejoin="round" /><polygon points="369,454 371.5,453.5 372,457 370,458.5 368.5,457" fill="#e1c77c" stroke="#646d6b" stroke-width="0.8" stroke-linejoin="round" /><polygon points="369,460.5 371.5,460 371.5,462.5 369.5,463" fill="#e1c77c" stroke="#646d6b" stroke-width="0.8" stroke-linejoin="round" /><polygon points="354.9,468.8 357.2,467 360.1,466.4 362.4,466.4 363.6,467.6 362.4,468.8 364.2,477.5 364.8,482.2 364.2,485.7 363,489.2 361.3,492.7 360.1,494.5 357.2,494.5 353.7,495 349.6,496.2 345.5,496.8 342,496.8 339.7,495.6 338.5,493.3 339.1,490.9 341.4,489.2 344.3,486.3 345.5,483.9 347.8,482.8 345.5,481.6 343.8,479.3 344.3,476.4 346.1,473.4 347.8,472.3 351.4,473.4 354.3,472.8 356.6,473.4" fill="#cd965a" stroke="#646d6b" stroke-width="0.8" stroke-linejoin="round" /><polygon points="356.6,473.4 358.4,471.7 360.7,469.3 363.6,468.8 366.5,468.2 368.9,469.9 370,473.4 369.5,476.4 367.1,478.1 364.2,477.5 361.9,475.8 360.1,476.4 358.4,475.8" fill="#e1c77c" stroke="#646d6b" stroke-width="0.8" stroke-linejoin="round" /><ellipse cx="174.5" cy="542.9" rx="1.26" ry="0.9" fill="#8a8270" stroke="#6b6d6c" stroke-width="0.4"/><ellipse cx="187.7" cy="561" rx="1.8199999999999998" ry="1.3" fill="#8a8270" stroke="#6b6d6c" stroke-width="0.4"/><ellipse cx="196" cy="563.4" rx="1.4" ry="1" fill="#8a8270" stroke="#6b6d6c" stroke-width="0.4"/><ellipse cx="203.4" cy="577.1" rx="1.8199999999999998" ry="1.3" fill="#8a8270" stroke="#6b6d6c" stroke-width="0.4"/><ellipse cx="202.7" cy="585" rx="0.9799999999999999" ry="0.7" fill="#8a8270" stroke="#6b6d6c" stroke-width="0.4"/><ellipse cx="245.5" cy="645.3" rx="1.54" ry="1.1" fill="#8a8270" stroke="#6b6d6c" stroke-width="0.4"/><ellipse cx="251" cy="644.8" rx="0.7" ry="0.5" fill="#8a8270" stroke="#6b6d6c" stroke-width="0.4"/><ellipse cx="228.2" cy="678.3" rx="1.68" ry="1.2" fill="#8a8270" stroke="#6b6d6c" stroke-width="0.4"/><ellipse cx="234" cy="684" rx="1.4" ry="1" fill="#8a8270" stroke="#6b6d6c" stroke-width="0.4"/><ellipse cx="240" cy="684" rx="1.4" ry="1" fill="#8a8270" stroke="#6b6d6c" stroke-width="0.4"/><ellipse cx="380" cy="407" rx="1.9599999999999997" ry="1.4" fill="#8a8270" stroke="#6b6d6c" stroke-width="0.4"/><ellipse cx="484.8" cy="652" rx="1.26" ry="0.9" fill="#8a8270" stroke="#6b6d6c" stroke-width="0.4"/><ellipse cx="394" cy="326" rx="1.68" ry="1.2" fill="#8a8270" stroke="#6b6d6c" stroke-width="0.4"/><ellipse cx="474" cy="301" rx="0.9799999999999999" ry="0.7" fill="#8a8270" stroke="#6b6d6c" stroke-width="0.4"/><rect x="599" y="285" width="219" height="1" fill="#6e3038"/><rect x="556" y="456" width="110" height="1" fill="#6e3038"/></g><line x1="579" y1="152.4" x2="878" y2="152.4" stroke="#8a8c8b" stroke-width="0.8"/></svg>
<div class="t" id="h1" style="left:118px;top:27.85px;font-size:16.6px;color:#444;transform:scaleX(0.922)"><b>Tuberculosis surveillance and monitoring in Europe</b> 2020</div>
<div class="t" id="h2" style="left:737px;top:28.8px;font-size:14.8px;color:#808080;transform:scaleX(0.795)"><b>SURVEILLANCE</b> REPORT</div>
<div style="position:absolute;left:117px;top:45.5px;width:763px;height:1.4px;background:#bfbfbf"></div>
<div class="t" id="m1" style="left:117px;top:117.1px;font-size:13.9px;font-weight:bold;color:#3c3c3c;transform:scaleX(0.965)"><span style="color:#3e8d9a">Map 2.</span> Percentage of notified TB cases with multidrug resistance among new pulmonary laboratory confirmed TB</div>
<div class="t" id="m2" style="left:117px;top:132.3px;font-size:13.9px;font-weight:bold;color:#3c3c3c;transform:scaleX(0.965)">cases, European Region, 2018</div>
<div class="sw" style="left:122.2px;top:158.90px;background:#e1c77c"></div><div class="lt" style="left:146.2px;top:157.45px">≤ 10</div><div class="sw" style="left:122.2px;top:175.80px;background:#cd965a"></div><div class="lt" style="left:146.2px;top:174.35px">11−20</div><div class="sw" style="left:122.2px;top:192.70px;background:#b66c40"></div><div class="lt" style="left:146.2px;top:191.25px">21−50</div><div class="sw" style="left:122.2px;top:209.60px;background:#a04937"></div><div class="lt" style="left:146.2px;top:208.15px">51−100</div><div class="sw" style="left:122.2px;top:226.50px;background:#5a1a20"></div><div class="lt" style="left:146.2px;top:225.05px">› 100</div><div class="sw" style="left:122.2px;top:243.40px;background:#808483"></div><div class="lt" style="left:146.2px;top:241.95px">No data reported</div><div class="sw" style="left:122.2px;top:260.30px;background:#dcdcd8"></div><div class="lt" style="left:146.2px;top:258.85px">Not included</div><div class="lt" style="left:124.4px;top:396.95px">Non-visible countries</div><div class="sw" style="left:124px;top:415.10px;background:#e1c77c"></div><div class="lt" style="left:146.4px;top:413.45px">Andorra</div><div class="sw" style="left:124px;top:431.90px;background:#e1c77c"></div><div class="lt" style="left:146.4px;top:430.25px">Liechtenstein</div><div class="sw" style="left:124px;top:448.70px;background:#808483"></div><div class="lt" style="left:146.4px;top:447.05px">Luxembourg</div><div class="sw" style="left:124px;top:465.50px;background:#e1c77c"></div><div class="lt" style="left:146.4px;top:463.85px">Malta</div><div class="sw" style="left:124px;top:482.30px;background:#808483"></div><div class="lt" style="left:146.4px;top:480.65px">Monaco</div><div class="sw" style="left:124px;top:499.10px;background:#808483"></div><div class="lt" style="left:146.4px;top:497.45px">San Marino</div>
</body></html>
